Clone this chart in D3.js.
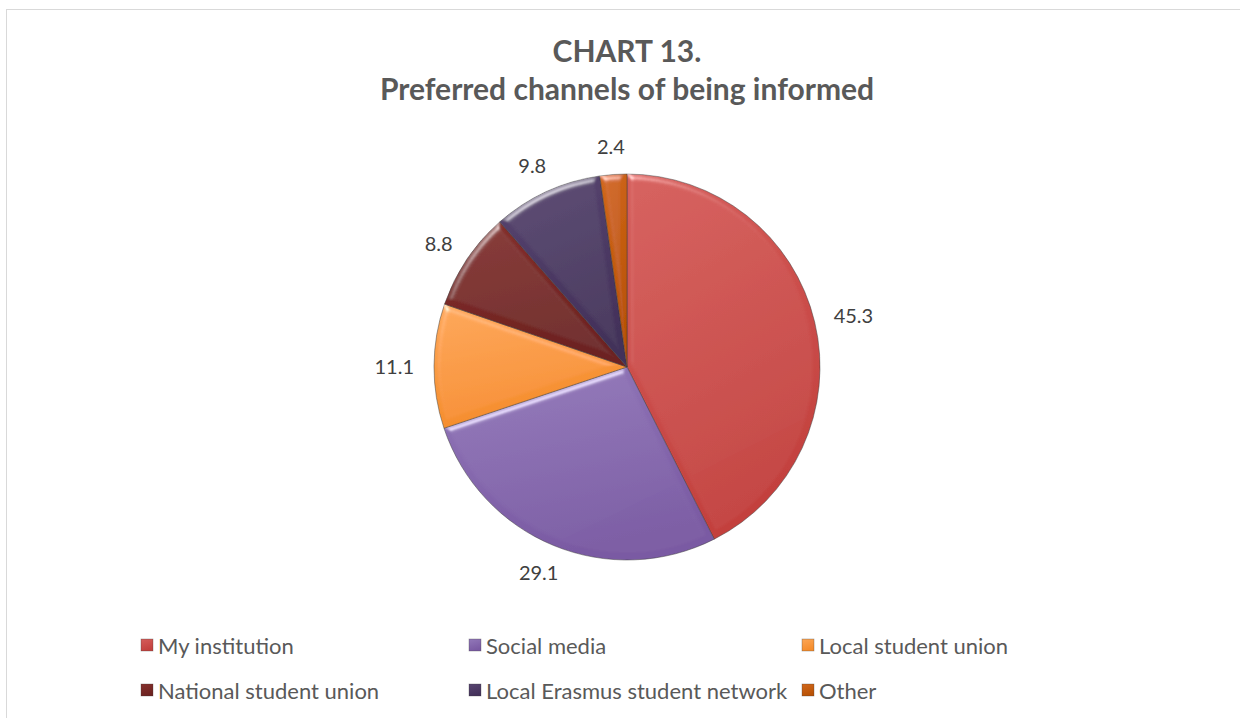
<!DOCTYPE html>
<html lang="en">
<head>
  <meta charset="UTF-8">
  <title>Chart 13 - Preferred channels of being informed</title>
  <script src="https://d3js.org/d3.v7.min.js"></script>
  <style>
    body { margin: 0; padding: 0; overflow: hidden; background: #fff; }
    text { font-family: Lato, "Open Sans", sans-serif; }
  </style>
</head>
<body>
  <svg id="chart" width="1240" height="718"></svg>

  <script>
    // Data
    const categories = ["My institution", "Social media", "Local student union",
      "National student union", "Local Erasmus student network", "Other"];
    const values = [45.3, 29.1, 11.1, 8.8, 9.8, 2.4];
    // light / dark ends of each slice gradient
    const colorsLight = ["#d55d5a", "#9278b9", "#fca656", "#86302d", "#584571", "#d2681c"];
    const colorsDark  = ["#c3413e", "#7a5aa3", "#f58c2b", "#6d2220", "#43315a", "#b85205"];

    const width = 1240, height = 718;
    const cx = 627, cy = 367, radius = 193;

    const svg = d3.select("#chart");

    // background + chart area border
    svg.append("rect").attr("width", width).attr("height", height).attr("fill", "#fff");
    svg.append("rect")
      .attr("x", 6.5).attr("y", 9.5)
      .attr("width", 1400).attr("height", 900)
      .attr("fill", "none").attr("stroke", "#d9d9d9").attr("stroke-width", 1);

    const defs = svg.append("defs");

    // gradients for each slice
    categories.forEach((c, i) => {
      const g = defs.append("linearGradient")
        .attr("id", "grad" + i)
        .attr("x1", 0).attr("y1", 0).attr("x2", 0.3).attr("y2", 1);
      g.append("stop").attr("offset", "0%").attr("stop-color", colorsLight[i]);
      g.append("stop").attr("offset", "100%").attr("stop-color", colorsDark[i]);
    });

    // soft bevel: highlight on upper-left edges
    const bevel = defs.append("filter").attr("id", "bevel")
      .attr("x", "-5%").attr("y", "-5%").attr("width", "110%").attr("height", "110%");
    bevel.append("feGaussianBlur").attr("in", "SourceAlpha").attr("stdDeviation", 3).attr("result", "blur");
    const spec = bevel.append("feSpecularLighting")
      .attr("in", "blur").attr("surfaceScale", 4).attr("specularConstant", 0.5)
      .attr("specularExponent", 24).attr("lighting-color", "#ffffff").attr("result", "spec");
    spec.append("fePointLight").attr("x", -4000).attr("y", -8000).attr("z", 5000);
    bevel.append("feComposite").attr("in", "spec").attr("in2", "SourceAlpha")
      .attr("operator", "in").attr("result", "specOut");
    bevel.append("feComposite").attr("in", "SourceGraphic").attr("in2", "specOut")
      .attr("operator", "arithmetic").attr("k1", 0).attr("k2", 1).attr("k3", 1).attr("k4", 0);

    // Title
    const title = svg.append("text")
      .attr("x", cx).attr("text-anchor", "middle")
      .attr("font-size", 30).attr("font-weight", 700).attr("fill", "#595959");
    title.append("tspan").attr("x", cx).attr("y", 62).text("CHART 13.");
    title.append("tspan").attr("x", cx).attr("y", 100).text("Preferred channels of being informed");

    // Pie
    const pie = d3.pie().sort(null).value(d => d);
    const arcs = pie(values);
    const arc = d3.arc().innerRadius(0).outerRadius(radius);

    const g = svg.append("g").attr("transform", `translate(${cx},${cy})`);

    g.selectAll("path.slice")
      .data(arcs)
      .join("path")
      .attr("class", "slice")
      .attr("d", arc)
      .attr("fill", (d, i) => `url(#grad${i})`)
      .attr("stroke", "#3b3b3b")
      .attr("stroke-opacity", 0.6)
      .attr("stroke-width", 0.8)
      .attr("filter", "url(#bevel)");

    // Data labels (outside end)
    const gap = 20;
    const labels = g.selectAll("text.lbl")
      .data(arcs)
      .join("text")
      .attr("class", "lbl")
      .attr("font-size", 20)
      .attr("fill", "#404040")
      .attr("text-anchor", "middle")
      .attr("dominant-baseline", "central")
      .text(d => d3.format(".1f")(d.data));

    labels.each(function(d) {
      const a = (d.startAngle + d.endAngle) / 2;
      const w = this.getComputedTextLength();
      const h = 18;
      const x = (radius + gap) * Math.sin(a) + (w / 2) * Math.sin(a);
      const y = -(radius + gap) * Math.cos(a) - (h / 2) * Math.cos(a);
      d3.select(this).attr("x", x).attr("y", y);
    });

    // Legend
    const legendX = [141, 469, 802];
    const legendY = [645, 690];
    const legend = svg.append("g");
    categories.forEach((c, i) => {
      const lx = legendX[i % 3], ly = legendY[Math.floor(i / 3)];
      legend.append("rect")
        .attr("x", lx).attr("y", ly - 6)
        .attr("width", 12).attr("height", 12)
        .attr("fill", `url(#grad${i})`)
        .attr("stroke", "#3b3b3b").attr("stroke-opacity", 0.5).attr("stroke-width", 0.6);
      legend.append("text")
        .attr("x", lx + 17).attr("y", ly)
        .attr("dominant-baseline", "central")
        .attr("font-size", 22).attr("fill", "#595959")
        .text(c);
    });
  </script>
</body>
</html>
